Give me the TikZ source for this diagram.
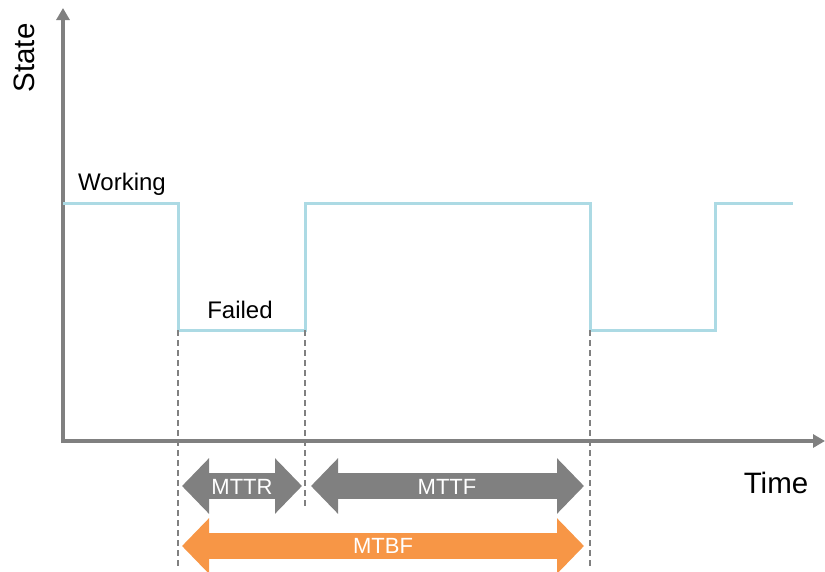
\documentclass[tikz,border=0pt]{standalone}
\usepackage{fontspec}
\setmainfont{Liberation Sans}
\usetikzlibrary{arrows.meta}
\definecolor{axisgray}{RGB}{128,128,128}
\definecolor{signal}{RGB}{172,218,228}
\definecolor{mtbforange}{RGB}{247,150,70}
\begin{document}
\begin{tikzpicture}[x=1pt,y=-1pt]
    \tikzstyle{axis}=[draw=axisgray,line width=4pt,-{Triangle[length=12pt,width=13pt]}]
    \tikzstyle{state}=[draw=signal,line width=3pt,line join=miter]
    \tikzstyle{guide}=[draw=axisgray,line width=1.6pt,dash pattern=on 6pt off 4pt]
    \tikzstyle{span}=[line width=26pt,{Triangle[length=27pt,width=54pt]}-{Triangle[length=27pt,width=54pt]}]
    \tikzstyle{label}=[font=\fontsize{22}{26}\selectfont,inner sep=0pt]
    \tikzstyle{level}=[font=\fontsize{24}{28}\selectfont,inner sep=0pt]
    \tikzstyle{big}=[font=\fontsize{29.5}{34}\selectfont,inner sep=0pt]
    \useasboundingbox (0,0) rectangle (825,571);

    % axes
    \coordinate (O) at (63,441);
    \coordinate (Ytop) at (63,8);
    \coordinate (Xend) at (825,441);
    \draw[axis] (63,443) -- (Ytop);
    \draw[axis] (61,441) -- (Xend);
    \node[big,rotate=90] (ylab) at (24,58) {State};
    \node[big,anchor=base] (xlab) at (776,493) {Time};

    % working / failed signal
    \foreach \n/\x/\y in {1/63/203,2/178/203,3/178/330,4/305/330,5/305/203,
                          6/590/203,7/590/330,8/715/330,9/715/203,10/793/203}
    \coordinate (S-\n) at (\x,\y);
    \draw[state] (S-1) -- (S-2) -- (S-3) -- (S-4) -- (S-5) -- (S-6)
                 -- (S-7) -- (S-8) -- (S-9) -- (S-10);
    \node[level,anchor=base] (work) at (122,190) {Working};
    \node[level,anchor=base] (fail) at (240,318) {Failed};

    % dashed guides down from the transitions
    \coordinate (G-1) at (178,567);
    \coordinate (G-2) at (305,507);
    \coordinate (G-3) at (590,567);
    \path[guide] (S-3) edge (G-1) (S-4) edge (G-2) (S-7) edge (G-3);

    % time spans
    \coordinate (R-a) at (182,486);
    \coordinate (R-b) at (302,486);
    \coordinate (F-a) at (311,486);
    \coordinate (F-b) at (584,486);
    \coordinate (B-a) at (182,546);
    \coordinate (B-b) at (584,546);
    \draw[span,axisgray] (R-a) -- (R-b);
    \draw[span,axisgray] (F-a) -- (F-b);
    \draw[span,mtbforange] (B-a) -- (B-b);
    \node[label,text=white] (mttr) at (242,487) {MTTR};
    \node[label,text=white] (mttf) at (447,487) {MTTF};
    \node[label,text=white] (mtbf) at (383,546) {MTBF};
  \end{tikzpicture}
\end{document}
